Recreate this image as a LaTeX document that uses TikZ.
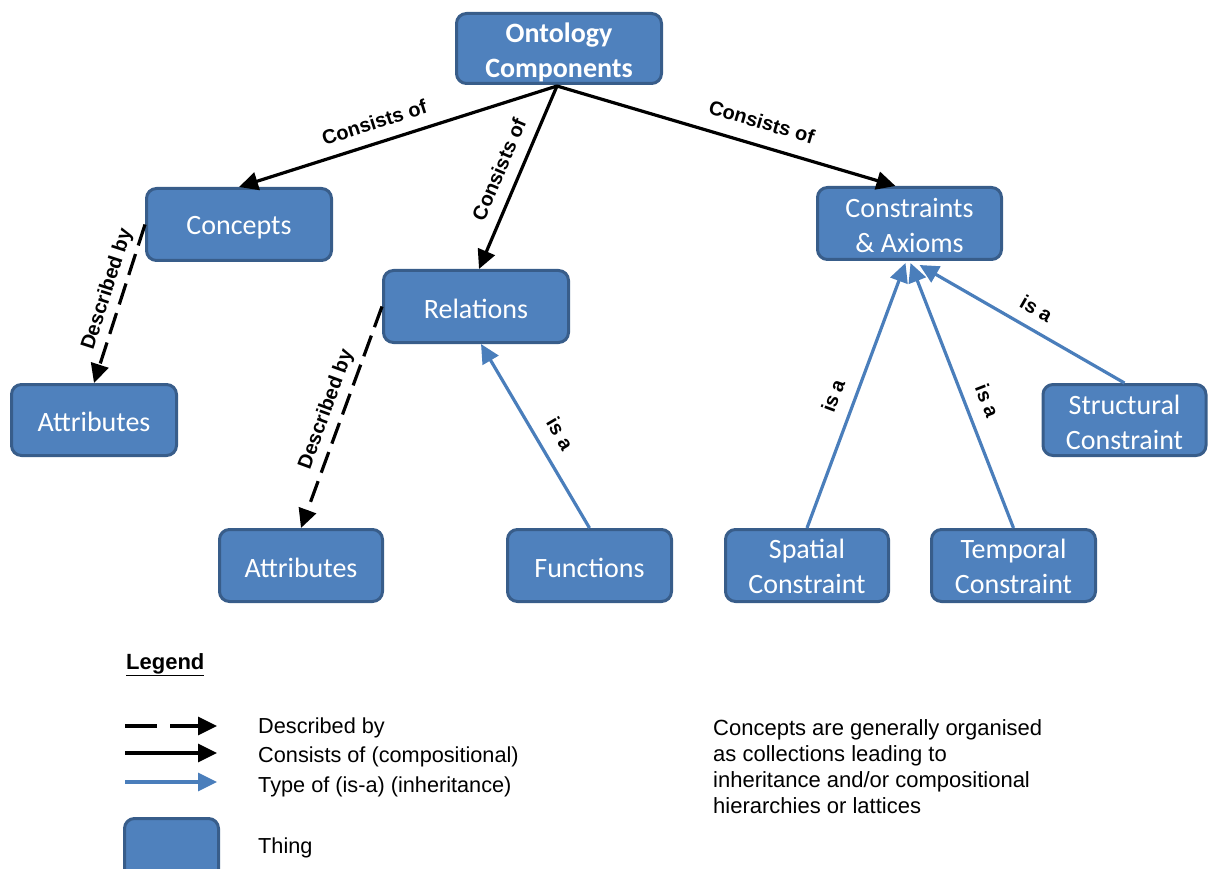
\documentclass[tikz,border=0pt]{standalone}
\usepackage{fontspec}
\setmainfont{Liberation Sans}
\newfontfamily\boxfont{Carlito}
\usetikzlibrary{arrows.meta,calc}
\definecolor{boxfill}{HTML}{4F81BD}
\definecolor{boxedge}{HTML}{385D8A}
\definecolor{isablue}{HTML}{4A7EBB}
% invisible strut that lowers the first text line of a box
\newcommand\firstline[1]{\rule{0pt}{#1}}
\begin{document}
\begin{tikzpicture}[x=1pt,y=-1pt,
  thing/.style={draw=boxedge, fill=boxfill, line width=3pt, rounded corners=10pt,
    text=white, align=center, inner sep=0pt,
    font=\boxfont\fontsize{28}{35}\selectfont},
  tip/.style={-{Triangle[length=19pt,width=18pt]}},
  consists/.style={tip, line width=3.2pt, black},
  described/.style={tip, line width=3.2pt, black, dash pattern=on 22pt off 9pt},
  isa/.style={tip, line width=3.2pt, isablue},
  lbl/.style={font=\bfseries\fontsize{20}{20}\selectfont, sloped, inner sep=0pt,
    text depth=0pt, text=black},
  legtext/.style={font=\fontsize{21.7}{26}\selectfont, anchor=base west, inner sep=0pt},
]
\useasboundingbox (0,0) rectangle (1208,869);

% concept boxes
\node[thing, minimum width=205pt, minimum height=70pt,
      font=\boxfont\bfseries\fontsize{28}{35}\selectfont]
      (onto) at (559,48.5) {\firstline{28pt}Ontology\\Components};
\node[thing, minimum width=185pt, minimum height=72pt] (concepts)  at (239,224.5)  {\firstline{24pt}Concepts};
\node[thing, minimum width=185pt, minimum height=72pt] (relations) at (476,306.5)  {\firstline{24pt}Relations};
\node[thing, minimum width=184pt, minimum height=72pt] (cons)      at (909.5,223.5) {\firstline{24pt}Constraints\\\& Axioms};
\node[thing, minimum width=165pt, minimum height=71pt] (attrA)     at (94,420)     {\firstline{24pt}Attributes};
\node[thing, minimum width=163pt, minimum height=72pt] (attrB)     at (301,565.5)  {\firstline{24pt}Attributes};
\node[thing, minimum width=164pt, minimum height=72pt] (func)      at (589.5,565.5) {\firstline{24pt}Functions};
\node[thing, minimum width=163pt, minimum height=72pt] (spatial)   at (807,565.5)  {\firstline{22pt}Spatial\\Constraint};
\node[thing, minimum width=164pt, minimum height=72pt] (temporal)  at (1013.5,565.5) {\firstline{22pt}Temporal\\Constraint};
\node[thing, minimum width=163pt, minimum height=71pt] (struct)    at (1124.5,420) {\firstline{24pt}Structural\\Constraint};

% composition
\draw[consists] ($(onto.south)+(-2,1)$) -- (concepts.north)
  node[lbl, pos=0.555, above=12pt] {Consists of};
\draw[consists] ($(onto.south)+(-2,1)$) -- ($(relations.north)+(3,0)$)
  node[lbl, pos=0.5, above=12pt] {Consists of};
\draw[consists] ($(onto.south)+(-2,1)$) -- ($(cons.north)+(-14,0)$)
  node[lbl, pos=0.585, above=15pt] {Consists of};

% description
\draw[described] (concepts.west) -- (attrA.north)
  node[lbl, pos=0.44, above=9pt] {Described by};
\draw[described] (relations.west) -- (attrB.north)
  node[lbl, pos=0.49, above=10pt] {Described by};

% inheritance
\draw[isa] (func.north) -- ($(relations.south)+(5,0)$)
  node[lbl, pos=0.45, above=14pt] {is a};
\draw[isa] (spatial.north) -- ($(cons.south)+(-4,2)$)
  node[lbl, pos=0.47, above=13pt] {is a};
\draw[isa] (temporal.north) -- ($(cons.south)+(1,2)$)
  node[lbl, pos=0.45, above=13pt] {is a};
\draw[isa] (struct.north) -- ($(cons.south)+(10,4)$)
  node[lbl, pos=0.48, above=12pt] {is a};

% legend
\node[font=\bfseries\fontsize{22}{22}\selectfont, anchor=base west, inner sep=0pt]
  (legtitle) at (126,669) {\underline{Legend}};

\coordinate (d1) at (125,726);  \coordinate (d2) at (217,726);
\coordinate (c1) at (125,753);  \coordinate (c2) at (217,753);
\coordinate (i1) at (125,782);  \coordinate (i2) at (217,782);
\draw[described, dash pattern=on 32pt off 13pt] (d1) -- (d2);
\draw[consists] (c1) -- (c2);
\draw[isa] (i1) -- (i2);
\node[legtext] (legdesc) at (258,733) {Described by};
\node[legtext] (legcons) at (258,762) {Consists of (compositional)};
\node[legtext] (legisa)  at (258,792) {Type of (is-a) (inheritance)};

\node[thing, minimum width=94pt, minimum height=71pt] (legthing) at (171.5,854) {};
\node[legtext] (legthingtext) at (258,853) {Thing};

\node[legtext, font=\fontsize{22}{26}\selectfont, align=left, anchor=north west] (note) at (713,719)
  {Concepts are generally organised\\as collections leading to\\inheritance and/or compositional\\hierarchies or lattices};
\end{tikzpicture}
\end{document}
